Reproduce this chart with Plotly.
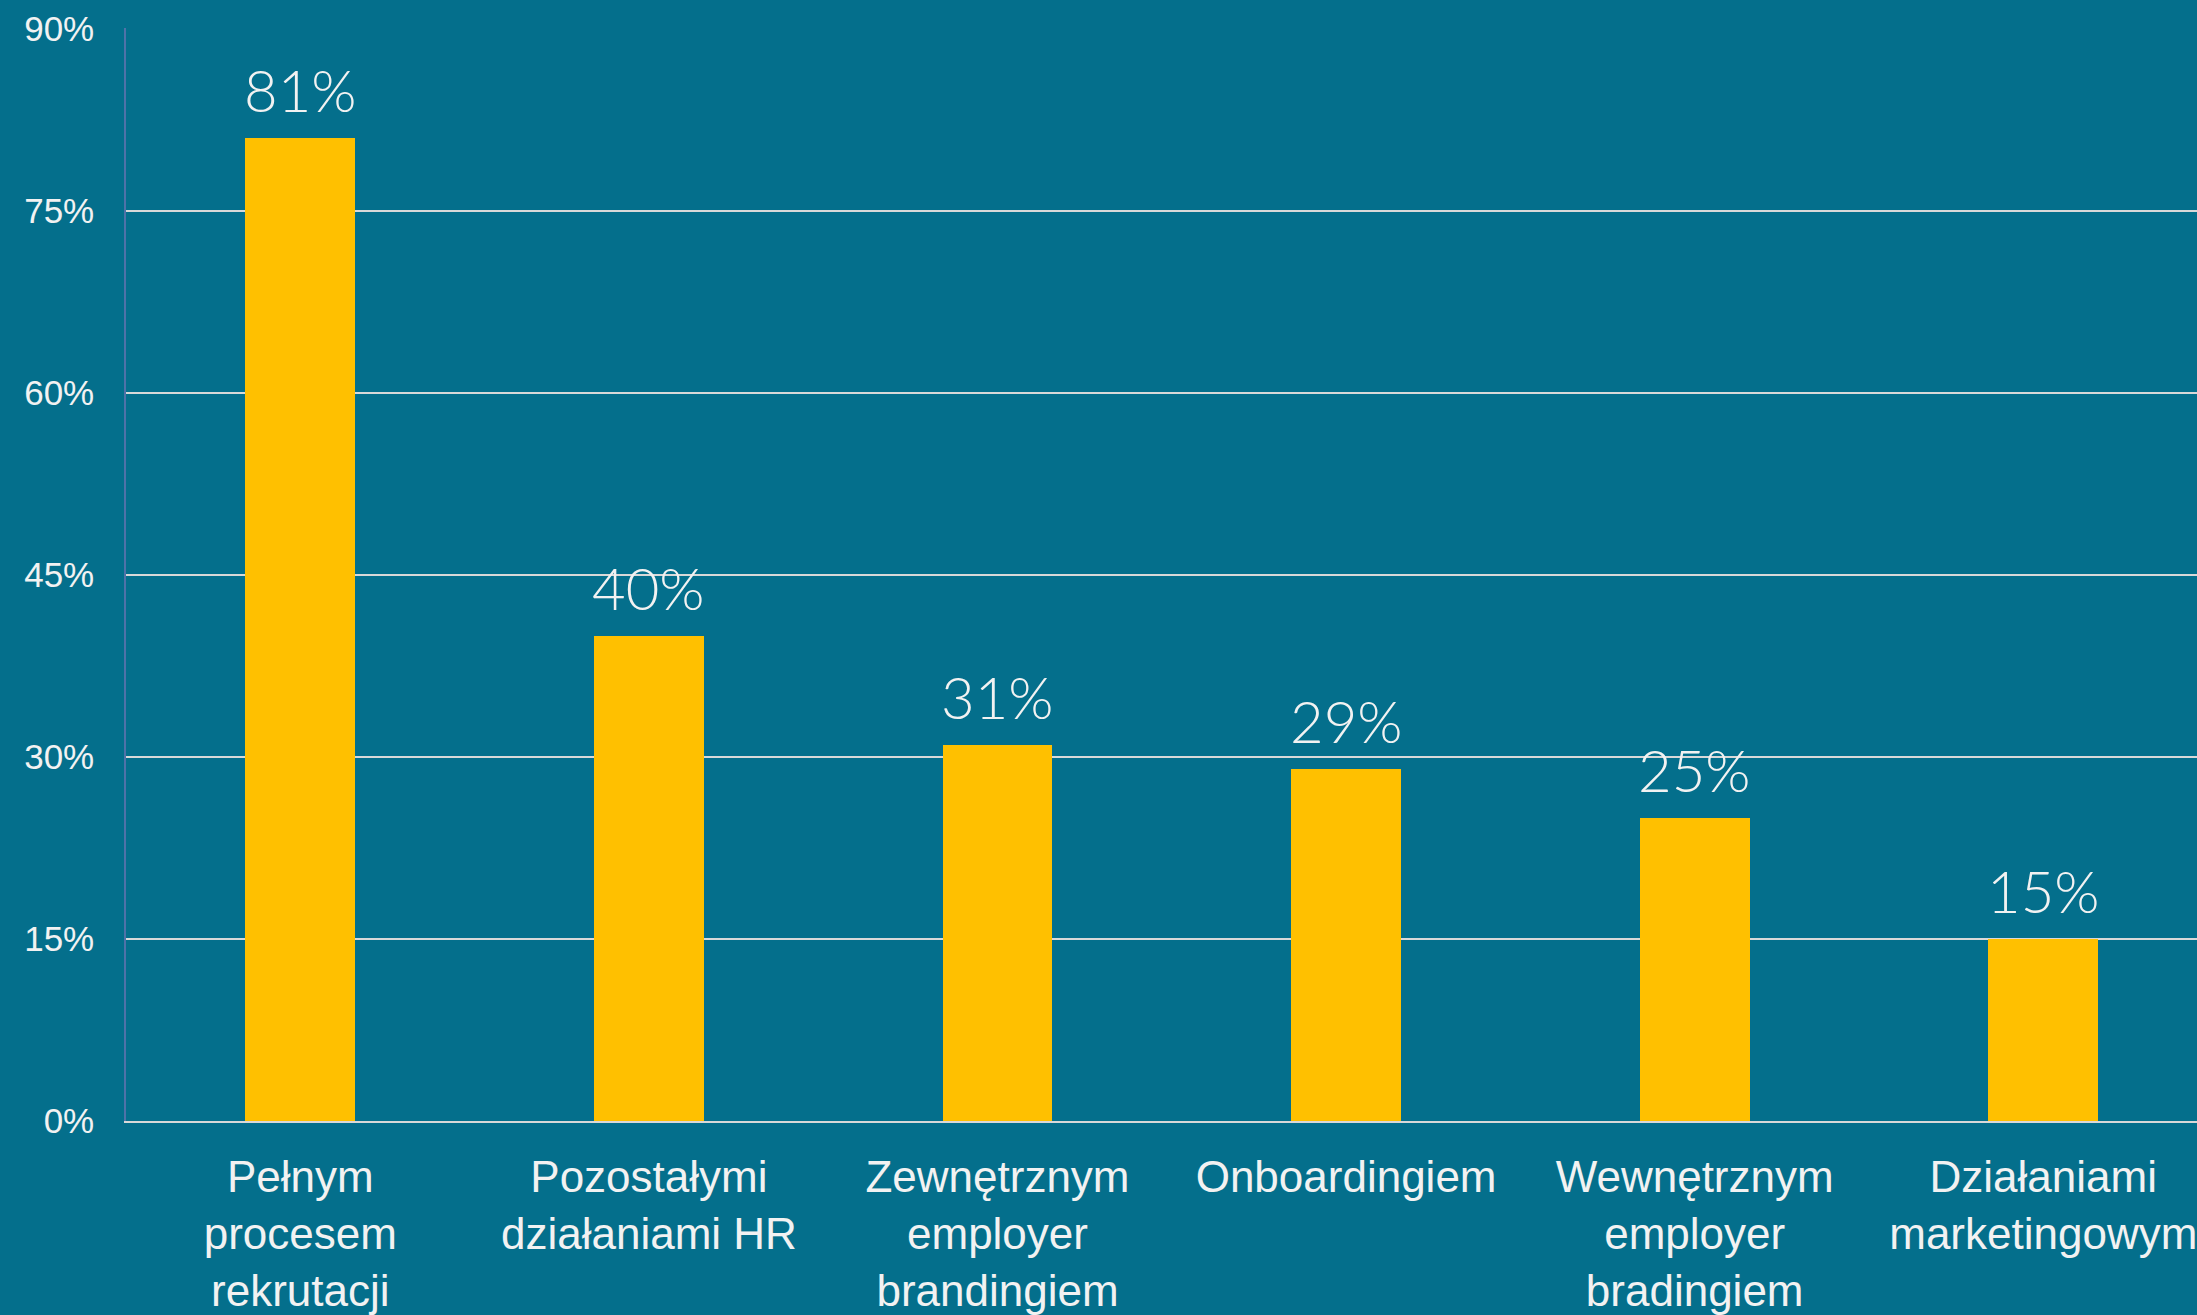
import plotly.graph_objects as go

categories = [
    "Pełnym<br>procesem<br>rekrutacji",
    "Pozostałymi<br>działaniami HR",
    "Zewnętrznym<br>employer<br>brandingiem",
    "Onboardingiem",
    "Wewnętrznym<br>employer<br>bradingiem",
    "Działaniami<br>marketingowym",
]
values = [81, 40, 31, 29, 25, 15]
value_labels = ["81%", "40%", "31%", "29%", "25%", "15%"]
y_ticks = [0, 15, 30, 45, 60, 75, 90]
y_tick_labels = ["0%", "15%", "30%", "45%", "60%", "75%", "90%"]

BG = "#046F8C"
BAR = "#FFC000"
TXT = "#F2F2F2"
GRID = "#D9D9D9"

fig = go.Figure()
fig.add_trace(go.Bar(
    x=categories, y=values, marker=dict(color=BAR, line=dict(width=0)),
    width=0.315, hoverinfo="skip",
))

for c, v, t in zip(categories, values, value_labels):
    fig.add_annotation(
        x=c, y=v, text=t, showarrow=False, xanchor="center", yanchor="bottom",
        yshift=12, font=dict(family="Lato", size=58, color=TXT, weight=300),
    )

fig.update_layout(
    width=2197, height=1315,
    paper_bgcolor=BG, plot_bgcolor=BG,
    margin=dict(l=126, r=0, t=28, b=194, autoexpand=False),
    showlegend=False,
    bargap=0,
)
fig.update_xaxes(
    range=[-0.5, 5.441], showgrid=False, automargin=False,
    showline=True, linecolor=GRID, linewidth=2,
    ticks="", ticklabelstandoff=16,
    tickfont=dict(family="Liberation Sans, Arial", size=44, color=TXT),
)
fig.update_yaxes(
    range=[0, 90.08], tickvals=y_ticks, ticktext=y_tick_labels, automargin=False,
    showgrid=True, gridcolor=GRID, gridwidth=2,
    showline=True, linecolor="#4F72A8", linewidth=1.5,
    zeroline=False, ticks="", ticklabelstandoff=23,
    tickfont=dict(family="Liberation Sans, Arial", size=35, color=TXT),
)

fig.write_html(
    "out.html",
    config={"displayModeBar": False},
    post_script=(
        "document.documentElement.style.overflow='hidden';"
        "document.body.style.overflow='hidden';"
        "document.body.style.margin='0';"
        "document.body.style.background='%s';" % BG
    ),
)
